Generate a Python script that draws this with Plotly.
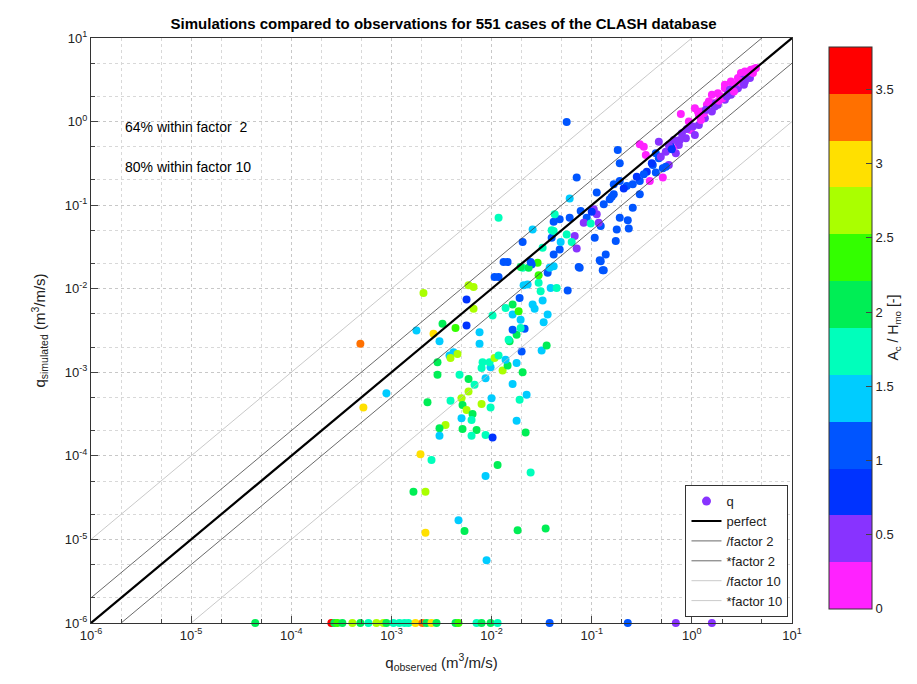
import numpy as np
import plotly.graph_objects as go

# log10 of observed / simulated discharge, and Ac/Hm0 for each point
log_q_obs = [
    -3.31, -2.68, -2.18, -2.18, -2.25, -2.49, -2.36, -2.25, -2.75, -2.58, -2.52, -2.12, -2.12,
    -2.42, -2.38, -2.34, -2.41, -2.54, -2.54, -2.32, -2.23, -2.23, -2.17, -2.06, -2.10, -2.09,
    -2.01, -2.02, -1.97, -1.93, -1.89, -1.84, -1.86, -1.75, -1.69, -1.70, -1.50, -1.45, -1.82,
    -1.83, -1.75, -1.79, -1.67, -1.71, -1.71, -1.79, -1.73, -1.79, -1.86, -1.99, -1.72, -1.59,
    -1.57, -1.49, -1.44, -1.48, -1.64, -1.53, -1.51, -1.41, -1.35, -1.24, -1.44, -1.12, -0.88,
    -0.91, -1.38, -1.54, -1.60, -1.69, -1.84, -1.93, -2.64, -3.05, -3.28, -2.41, -2.30, -2.29,
    -2.25, -2.19, -2.30, -2.20, -2.10, -2.01, -2.00, -2.46, -2.52, -2.52, -2.29, -2.15, -2.20,
    -2.06, -1.99, -1.75, -1.72, -1.65, -1.79, -1.66, -2.71, -2.60, -2.06, -1.94, -1.61, -2.78,
    -2.66, -2.66, -2.33, -2.27, -1.74, -1.46, -2.05,
    # upper cloud
    -1.25, -1.93, -1.22, -0.74, -0.72, -0.52, -0.48, -0.46, -0.42, -0.29, -0.11, -0.01, -0.33,
    -0.26, -0.23, -0.16, -0.13, -0.06, 0.03, 0.07, 0.13, 0.20, 0.26, 0.33, 0.39, 0.46, 0.53,
    0.03, 0.10, 0.17, 0.20, 0.26, 0.33, 0.39, 0.46, 0.53, 0.59, 0.64, 0.49, 0.56, 0.21, 0.33,
    0.43, -0.03, 0.07, -0.19,
    0.12, 0.15, 0.24, 0.29, 0.36, 0.41, 0.44, 0.50, 0.55, 0.58, 0.61, 0.62, 0.51, 0.47, 0.38,
    0.31, 0.23, 0.09, 0.01, -0.05, -0.10, -0.18, -0.21, 0.06, 0.14, 0.27, 0.35, 0.42, 0.52, 0.57,
    -0.39, -0.33, -0.29, -0.36, -0.26, -0.52, -0.59, -0.65, -0.72, -0.78, -0.82, -0.88, -0.95,
    -1.05, -1.11, -0.59, -0.52, -0.72, -0.64, -0.63, -0.75, -0.76, -0.91, -0.97, -0.86, -0.92,
    -0.89, -1.13, -1.22, -1.32, -1.38, -1.40, -1.32, -1.38, -1.69, -1.88, -1.97, -1.59, -1.31,
    -1.38, -1.25, -1.17, -1.15, -1.08, -0.93, -0.95, -0.98, -1.01, -1.20, -1.49, -1.37, -1.40,
    -1.71, -1.63, -1.61, -1.42, -1.53, -1.68, -2.23, -1.15, -0.78, -0.36, -0.23,
    -0.45, -0.40, -0.31, -0.20, -0.12, -0.68, -0.80, -1.00, -0.55, -0.48,
    # zero simulated discharge, shown on the lower axis
    -4.36, -3.60, -3.57, -3.54, -3.49, -3.39, -3.31, -3.23, -3.15, -3.08, -3.05, -2.98, -2.92,
    -2.87, -2.83, -2.76, -2.69, -2.65, -2.60, -2.55, -2.36, -2.33, -2.15, -2.10, -2.01, -1.94,
    -1.42, -0.64, -0.16, 0.20,
]
log_q_sim = [
    -2.66, -2.05, -1.98, -2.24, -2.13, -2.42, -2.47, -2.44, -2.50, -2.54, -2.63, -2.52, -2.66,
    -2.80, -2.76, -2.78, -2.83, -2.88, -3.03, -3.03, -3.08, -3.23, -3.15, -3.07, -2.95, -2.88,
    -2.94, -2.88, -2.83, -2.80, -2.98, -2.92, -2.85, -2.89, -3.00, -2.75, -2.74, -2.68, -2.63,
    -2.61, -2.55, -2.49, -2.48, -2.47, -2.37, -2.31, -2.27, -2.19, -2.23, -2.32, -2.11, -2.19,
    -2.24, -2.14, -2.31, -2.40, -1.95, -1.93, -2.03, -1.99, -1.99, -2.02, -1.81, -1.75, -1.78,
    -1.67, -1.73, -1.69, -1.71, -1.75, -1.68, -1.86, -3.36, -3.25, -3.42, -3.34, -3.31, -3.39,
    -3.45, -3.50, -3.55, -3.57, -3.38, -3.42, -3.31, -3.63, -3.67, -3.76, -3.68, -3.69, -3.76,
    -3.75, -3.78, -3.58, -3.33, -3.27, -3.14, -3.72, -3.98, -4.05, -4.24, -4.11, -4.20, -4.43,
    -4.43, -4.92, -4.77, -4.90, -4.89, -4.87, -5.25,
    -0.005, -1.15, -0.92, -0.34, -0.50, -0.27, -0.30, -0.40, -0.71, -0.67, 0.09, -0.10, -0.24,
    -0.36, -0.52, -0.38, -0.28, -0.20, -0.16, -0.04, 0.04, 0.12, 0.20, 0.26, 0.32, 0.40, 0.48,
    0.16, 0.12, 0.24, 0.32, 0.34, 0.40, 0.48, 0.52, 0.60, 0.62, 0.64, 0.58, 0.56, 0.22, 0.44,
    0.44, 0.00, 0.08, -0.32,
    0.10, 0.20, 0.22, 0.30, 0.33, 0.42, 0.39, 0.46, 0.55, 0.52, 0.58, 0.63, 0.50, 0.49, 0.38,
    0.28, 0.18, 0.02, -0.06, -0.09, -0.14, -0.22, -0.30, 0.12, 0.14, 0.25, 0.30, 0.36, 0.44, 0.60,
    -0.52, -0.44, -0.56, -0.61, -0.54, -0.71, -0.75, -0.77, -0.71, -0.87, -0.93, -0.99, -0.85,
    -1.15, -1.07, -1.03, -0.87, -1.15, -1.18, -1.28, -1.29, -1.43, -1.25, -1.39, -1.59, -1.66,
    -1.78, -1.74, -1.15, -1.17, -1.20, -1.39, -1.53, -1.59, -1.44, -1.68, -1.86, -1.29, -1.44,
    -1.31, -1.35, -1.37, -1.52, -1.21, -1.21, -1.11, -1.05, -1.22, -1.44, -1.51, -1.11, -1.30,
    -1.74, -1.75, -1.68, -1.75, -1.84, -1.96, -1.96, -0.67, -0.75, -0.38, -0.28,
    -0.60, -0.50, -0.42, -0.33, -0.22, -0.80, -0.90, -1.08, -0.66, -0.63,
] + [-6.0] * 30
ac_hm0 = [
    3.32, 2.69, 2.69, 2.69, 0.79, 2.05, 2.37, 0.79, 1.42, 3.00, 1.42, 1.42, 1.42,
    1.42, 1.42, 2.69, 2.69, 2.05, 2.05, 1.74, 2.05, 2.69, 1.74, 1.42, 1.74, 1.74,
    1.42, 1.74, 2.69, 1.74, 2.69, 2.05, 1.42, 1.42, 2.05, 1.10, 1.42, 2.05, 2.05,
    1.74, 2.05, 1.10, 1.10, 1.74, 1.42, 1.42, 2.37, 2.05, 1.74, 1.74, 1.10, 1.42,
    1.42, 1.42, 1.42, 1.42, 1.42, 1.74, 1.74, 1.42, 1.74, 1.10, 1.10, 1.10, 1.10,
    1.10, 1.42, 2.37, 1.10, 1.74, 1.10, 1.10, 2.05, 1.42, 3.00, 1.74, 2.69, 2.05,
    2.69, 2.05, 1.42, 1.74, 2.69, 1.74, 1.42, 2.69, 2.05, 1.42, 2.05, 2.05, 1.74,
    1.74, 0.79, 1.42, 1.74, 1.42, 1.42, 2.05, 3.00, 1.74, 1.42, 2.05, 1.74, 2.05,
    2.69, 3.00, 1.42, 2.05, 2.05, 2.05, 1.42,
    1.10, 1.74, 1.42, 1.10, 1.10, 0.15, 0.15, 0.15, 0.15, 0.15, 0.15, 0.15, 0.47,
    0.47, 0.47, 0.47, 0.47, 0.47, 0.47, 0.47, 0.47, 0.47, 0.47, 0.47, 0.47, 0.47, 0.47,
    0.15, 0.15, 0.15, 0.15, 0.15, 0.15, 0.15, 0.15, 0.15, 0.15, 0.15, 0.15, 0.15, 0.15, 0.15,
    0.15, 0.15, 0.15, 0.15,
    0.15, 0.15, 0.47, 0.15, 0.47, 0.15, 0.47, 0.15, 0.15, 0.47, 0.15, 0.15, 0.47, 0.15, 0.47,
    0.15, 0.47, 0.15, 0.47, 0.47, 0.47, 0.47, 0.79, 0.15, 0.47, 0.15, 0.47, 0.15, 0.47, 0.15,
    1.10, 1.10, 1.10, 1.10, 1.10, 1.10, 1.10, 1.10, 1.10, 1.10, 1.10, 1.10, 1.10,
    1.10, 1.10, 1.10, 1.10, 1.10, 1.10, 1.10, 1.10, 1.10, 1.10, 1.10, 1.10, 1.10,
    1.10, 1.10, 1.10, 1.10, 1.10, 1.10, 1.10, 1.10, 1.10, 1.10, 1.10, 1.42, 1.42,
    1.74, 1.74, 0.47, 0.47, 0.47, 0.47, 0.47, 0.47, 1.74, 1.74, 1.74, 1.74, 1.74,
    2.05, 2.05, 1.10, 1.42, 2.37, 1.42, 2.69, 1.10, 1.10, 1.10, 0.47,
    0.79, 0.79, 0.47, 0.79, 0.47, 0.79, 1.10, 0.79, 0.79, 1.10,
    2.05, 3.64, 2.05, 2.37, 2.05, 2.69, 2.05, 1.74, 2.69, 2.69, 2.05, 1.74, 1.74,
    1.74, 1.74, 3.00, 3.32, 2.05, 3.00, 2.05, 2.05, 2.37, 1.74, 2.05, 2.05, 1.74,
    1.10, 1.10, 0.47, 0.47,
]

band_colors = ["#ff22ff", "#8833ff", "#0033ff", "#0055ff", "#00ccff", "#00ffbb",
               "#00ee55", "#33ff00", "#aaff00", "#ffe000", "#ff7000", "#ff0000"]
c_max = 3.79

scale = []
for i, col in enumerate(band_colors):
    scale.append([i / len(band_colors), col])
    scale.append([(i + 1) / len(band_colors), col])

q_obs = 10 ** np.array(log_q_obs)
q_sim = 10 ** np.array(log_q_sim)
line_x = np.array([1e-6, 1e1])

fig = go.Figure()
fig.add_trace(go.Scatter(
    x=q_obs, y=q_sim, mode="markers", name="q", cliponaxis=False, showlegend=False,
    marker=dict(size=8, color=ac_hm0, colorscale=scale, cmin=0, cmax=c_max,
                colorbar=dict(x=1.038, xanchor="left", y=0.505, yanchor="middle", len=0.995,
                              thickness=43, outlinecolor="#333", outlinewidth=1,
                              tickvals=[0, 0.5, 1, 1.5, 2, 2.5, 3, 3.5], ticks="inside",
                              ticklen=6, tickfont=dict(size=13),
                              title=dict(text="A<sub>c</sub> / H<sub>mo</sub> [-]", side="right",
                                         font=dict(size=14))))))
# legend entry only
fig.add_trace(go.Scatter(x=[None], y=[None], mode="markers", name="q",
                         marker=dict(size=9, color="#8833ff")))
lines = [("perfect", 1, "black", 2.2), ("/factor 2", 0.5, "#444", 0.8),
         ("*factor 2", 2, "#444", 0.8), ("/factor 10", 0.1, "#bbb", 0.8),
         ("*factor 10", 10, "#bbb", 0.8)]
for name, f, col, w in lines:
    fig.add_trace(go.Scatter(x=line_x, y=line_x * f, mode="lines", name=name,
                             line=dict(color=col, width=w)))

tickvals = [10.0 ** k for k in range(-6, 2)]
ticktext = [f"10<sup>{k}</sup>" for k in range(-6, 2)]
axis = dict(type="log", range=[-6, 1], tickvals=tickvals, ticktext=ticktext,
            showgrid=True, gridcolor="#c8c8c8", gridwidth=1, griddash="dot",
            minor=dict(showgrid=True, gridcolor="#d8d8d8", griddash="dot", ticks="inside", ticklen=4),
            ticks="inside", ticklen=7, showline=True, mirror=True, linecolor="#333",
            tickfont=dict(size=13), zeroline=False)
fig.update_xaxes(**axis, title=dict(text="q<sub>observed</sub> (m<sup>3</sup>/m/s)", font=dict(size=15)))
fig.update_yaxes(**axis, title=dict(text="q<sub>simulated</sub> (m<sup>3</sup>/m/s)", font=dict(size=15)))

fig.add_annotation(x=0.045, y=0.865, xref="paper", yref="paper", xanchor="left", showarrow=False,
                   text="64% within factor  2", font=dict(size=14, color="black"))
fig.add_annotation(x=0.045, y=0.797, xref="paper", yref="paper", xanchor="left", showarrow=False,
                   text="80% within factor 10", font=dict(size=14, color="black"))

fig.update_layout(
    width=917, height=684, paper_bgcolor="white", plot_bgcolor="white",
    font=dict(family="Arial, Liberation Sans", color="#222"),
    margin=dict(l=83, r=122, t=30, b=69),
    title=dict(text="<b>Simulations compared to observations for 551 cases of the CLASH database</b>",
               x=0.475, xanchor="center", y=0.985, font=dict(size=15, color="black")),
    legend=dict(x=0.995, xanchor="right", y=0.01, yanchor="bottom", bordercolor="#333",
                borderwidth=1, bgcolor="white", font=dict(size=13), tracegroupgap=0),
)
fig.write_html("out.html")
